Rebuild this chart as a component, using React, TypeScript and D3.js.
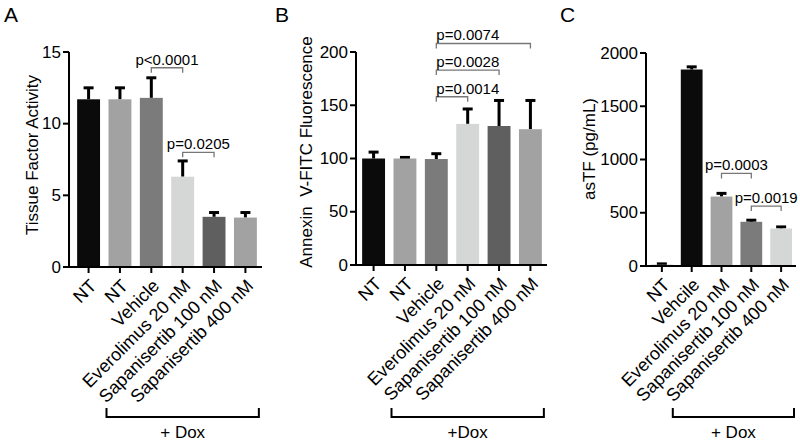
import React from 'react';
import * as d3 from 'd3';

// panel A: tissue factor activity
const labelsA = ['NT', 'NT', 'Vehicle', 'Everolimus 20 nM', 'Sapanisertib 100 nM', 'Sapanisertib 400 nM'];
const meansA = [11.7, 11.7, 11.8, 6.3, 3.5, 3.45];
const semA = [0.8, 0.8, 1.4, 1.1, 0.3, 0.35];
const colorsA = ['#0b0b0b', '#a2a2a2', '#7b7b7b', '#d5d7d7', '#5f5f5f', '#a2a2a2'];
const ticksA = [0, 5, 10, 15];
const sigA = [
  { from: 2, to: 3, at: 13.9, text: 'p<0.0001' },
  { from: 3, to: 4, at: 8.0, text: 'p=0.0205' },
];

// panel B: annexin V
const labelsB = ['NT', 'NT', 'Vehicle', 'Everolimus 20 nM', 'Sapanisertib 100 nM', 'Sapanisertib 400 nM'];
const meansB = [100, 100, 99.5, 132.5, 130.5, 127.5];
const semB = [6, 1, 5, 14, 24, 27];
const colorsB = ['#0b0b0b', '#a2a2a2', '#7b7b7b', '#d5d7d7', '#5f5f5f', '#a2a2a2'];
const ticksB = [0, 50, 100, 150, 200];
const sigB = [
  { from: 2, to: 5, at: 208, text: 'p=0.0074' },
  { from: 2, to: 4, at: 183, text: 'p=0.0028' },
  { from: 2, to: 3, at: 158, text: 'p=0.0014' },
];

// panel C: asTF
const labelsC = ['NT', 'Vehcile', 'Everolimus 20 nM', 'Sapanisertib 100 nM', 'Sapanisertib 400 nM'];
const meansC = [12, 1845, 652, 415, 352];
const semC = [8, 25, 30, 15, 15];
const colorsC = ['#a2a2a2', '#0b0b0b', '#a2a2a2', '#7b7b7b', '#d5d7d7'];
const ticksC = [0, 500, 1000, 1500, 2000];
const sigC = [
  { from: 2, to: 3, at: 869, text: 'p=0.0003' },
  { from: 3, to: 4, at: 563, text: 'p=0.0019' },
];

const FONT = '"Liberation Sans", Arial, Helvetica, sans-serif';

function Panel(props) {
  const { letter, letterX, labels, means, sem, colors, ticks, yMax, sig, sigAnchor,
    axisX, axisEnd, yTop, yBottom, bandRange, yTitle, yTitleX, yTitleY,
    doxFrom, doxPad, doxText } = props;

  const x = d3.scaleBand<number>()
    .domain(d3.range(labels.length))
    .range(bandRange)
    .paddingInner(0.27)
    .paddingOuter(0.1);
  const y = d3.scaleLinear().domain([0, yMax]).range([yBottom, yTop]);
  const bw = x.bandwidth();
  const cx = (i) => x(i) + bw / 2;

  const doxX0 = x(doxFrom) - doxPad;
  const doxX1 = x(labels.length - 1) + bw + 2;

  return (
    <g>
      <text x={letterX} y={22} fontSize={21} fontFamily={FONT}>{letter}</text>
      {means.map((m, i) => (
        <g key={i}>
          <line x1={cx(i)} x2={cx(i)} y1={y(m)} y2={y(m + sem[i])} stroke="#000" strokeWidth={3} />
          <line x1={cx(i) - 5} x2={cx(i) + 5} y1={y(m + sem[i])} y2={y(m + sem[i])} stroke="#000" strokeWidth={3} />
          <rect x={x(i)} y={y(m)} width={bw} height={y(0) - y(m)} fill={colors[i]} />
        </g>
      ))}
      <line x1={axisX} x2={axisX} y1={yTop} y2={yBottom + 1} stroke="#000" strokeWidth={2} />
      <line x1={axisX - 1} x2={axisEnd} y1={yBottom} y2={yBottom} stroke="#000" strokeWidth={2} />
      {ticks.map((t) => (
        <g key={t}>
          <line x1={axisX - 6} x2={axisX} y1={y(t)} y2={y(t)} stroke="#000" strokeWidth={2} />
          <text x={axisX - 8} y={y(t)} textAnchor="end" dominantBaseline="central" fontSize={17} fontFamily={FONT}>{t}</text>
        </g>
      ))}
      {labels.map((l, i) => (
        <g key={i}>
          <line x1={cx(i)} x2={cx(i)} y1={yBottom} y2={yBottom + 6} stroke="#000" strokeWidth={2} />
          <text transform={`translate(${cx(i) + 9},${yBottom + 20}) rotate(-45)`} textAnchor="end"
            fontSize={18} fontFamily={FONT}>{l}</text>
        </g>
      ))}
      <text transform={`translate(${yTitleX},${yTitleY}) rotate(-90)`} textAnchor="middle"
        fontSize={17} fontFamily={FONT} style={{ whiteSpace: 'pre' }}>{yTitle}</text>
      {sig.map((s, k) => {
        const x0 = cx(s.from), x1 = cx(s.to), yy = y(s.at);
        const tx = sigAnchor === 'start' ? x0 : (x0 + x1) / 2;
        return (
          <g key={k}>
            <path d={`M${x0},${yy + 5}V${yy}H${x1}V${yy + 5}`} fill="none" stroke="#777" strokeWidth={1.3} />
            <text x={tx} y={yy - 3} textAnchor={sigAnchor} fontSize={15} fontFamily={FONT}>{s.text}</text>
          </g>
        );
      })}
      <path d={`M${doxX0},408V417H${doxX1}V408`} fill="none" stroke="#000" strokeWidth={2} />
      <text x={(doxX0 + doxX1) / 2} y={438} textAnchor="middle" fontSize={17} fontFamily={FONT}>{doxText}</text>
    </g>
  );
}

export default function App() {
  return (
    <svg width={800} height={442} style={{ position: 'absolute', left: 0, top: 0, background: '#fff' }}>
      <Panel letter="A" letterX={4} labels={labelsA} means={meansA} sem={semA} colors={colorsA}
        ticks={ticksA} yMax={15} sig={sigA} sigAnchor="middle"
        axisX={69} axisEnd={262} yTop={52} yBottom={267} bandRange={[74, 260]}
        yTitle="Tissue Factor Activity" yTitleX={38} yTitleY={155}
        doxFrom={1} doxPad={2} doxText="+ Dox" />
      <Panel letter="B" letterX={275} labels={labelsB} means={meansB} sem={semB} colors={colorsB}
        ticks={ticksB} yMax={200} sig={sigB} sigAnchor="start"
        axisX={356} axisEnd={547} yTop={52} yBottom={265} bandRange={[359, 545]}
        yTitle="Annexin  V-FITC Fluorescence" yTitleX={312} yTitleY={152}
        doxFrom={1} doxPad={2} doxText="+Dox" />
      <Panel letter="C" letterX={560} labels={labelsC} means={meansC} sem={semC} colors={colorsC}
        ticks={ticksC} yMax={2000} sig={sigC} sigAnchor="middle"
        axisX={646} axisEnd={796} yTop={53} yBottom={266} bandRange={[648, 795]}
        yTitle="asTF (pg/mL)" yTitleX={595} yTitleY={149}
        doxFrom={1} doxPad={8} doxText="+ Dox" />
    </svg>
  );
}
